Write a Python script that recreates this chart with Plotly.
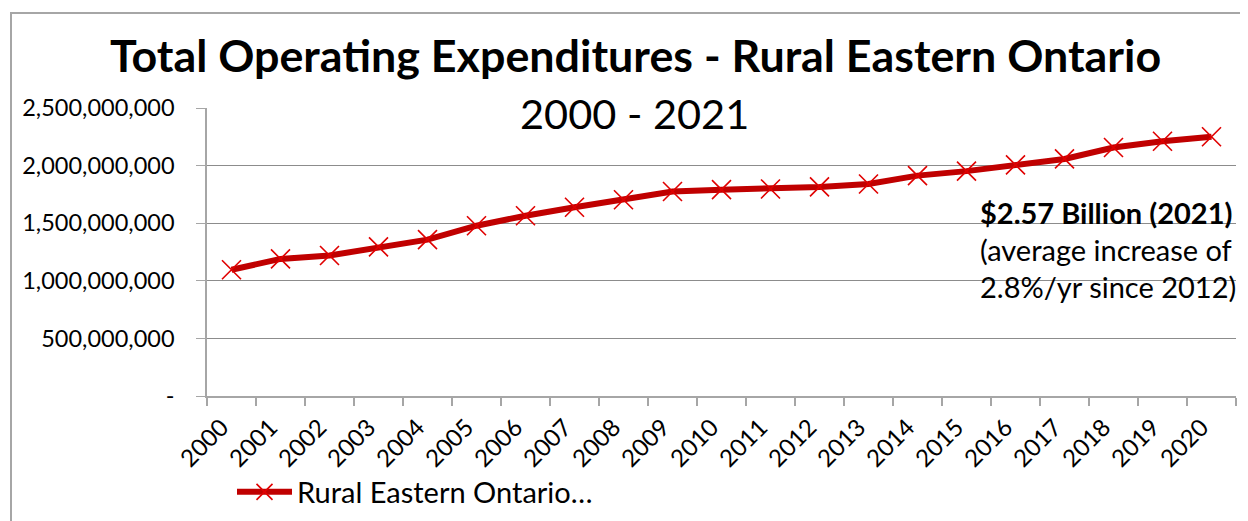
import plotly.graph_objects as go

years = [str(y) for y in range(2000, 2021)]
expenditures = [1.096e9, 1.19e9, 1.22e9, 1.295e9, 1.357e9, 1.478e9, 1.565e9, 1.638e9,
                1.704e9, 1.775e9, 1.791e9, 1.797e9, 1.815e9, 1.840e9, 1.913e9, 1.952e9,
                2.006e9, 2.058e9, 2.157e9, 2.211e9, 2.250e9]
series_name = "Rural Eastern Ontario…"
ytick_vals = [0, 500e6, 1000e6, 1500e6, 2000e6, 2500e6]
ytick_text = ["-", "500,000,000", "1,000,000,000", "1,500,000,000", "2,000,000,000", "2,500,000,000"]

title_text = "Total Operating Expenditures - Rural Eastern Ontario"
subtitle_text = "2000 - 2021"
note_lines = ["<b>$2.57 Billion (2021)</b>", "(average increase of", "2.8%/yr since 2012)"]

FONT = "Lato"
RED = "#C00000"

# page body has an 8px default margin; figure is sized to fit the window
OFF = 8
W, H = 1248 - OFF, 521 - OFF
# plot area in page coordinates
PL, PR, PT, PB = 207, 1236, 108, 396
L, R, T, B = PL - OFF, PR - OFF, PT - OFF, PB - OFF

def px(x):  # page x -> paper
    return (x - PL) / (PR - PL)
def py(y):  # page y -> paper
    return (PB - y) / (PB - PT)

fig = go.Figure()
fig.add_trace(go.Scatter(
    x=years, y=expenditures, name=series_name, mode="lines+markers",
    line=dict(color=RED, width=6),
    marker=dict(symbol="x-thin", size=19, color="#E00000",
                line=dict(width=1.6, color="#E00000")),
))

fig.update_layout(
    width=W, height=H,
    margin=dict(l=L, r=W - R, t=T, b=H - B, autoexpand=False),
    paper_bgcolor="white", plot_bgcolor="white",
    font=dict(family=FONT, size=23, color="black"),
    showlegend=True,
    legend=dict(orientation="h", x=px(232), y=py(492), xanchor="left", yanchor="middle",
                font=dict(size=29), bgcolor="rgba(0,0,0,0)", itemwidth=55),
)
fig.update_xaxes(
    type="category", range=[-0.5, len(years) - 0.5],
    showgrid=False, showline=True, linecolor="#A6A6A6", linewidth=1.5,
    ticks="outside", ticklen=8, tickcolor="#A6A6A6", tickwidth=1.5, tickson="boundaries",
    tickangle=-45, tickfont=dict(size=24, family=FONT), automargin=False,
    ticklabelstandoff=6, ticklabelshift=-10,
)
fig.update_yaxes(
    range=[0, 2.5e9], tickvals=ytick_vals, ticktext=ytick_text,
    showgrid=True, gridcolor="#8C8C8C", gridwidth=1.2,
    showline=True, linecolor="#A6A6A6", linewidth=1.5,
    ticks="outside", ticklen=9, tickcolor="#A6A6A6", tickwidth=1.2,
    ticklabelstandoff=17, tickfont=dict(size=23.5, family=FONT), zeroline=False,
    automargin=False,
)

# outer chart border
fig.add_shape(type="rect", xref="paper", yref="paper",
              x0=px(11), y0=py(560), x1=px(1300), y1=py(13),
              line=dict(color="#A6A6A6", width=2), fillcolor="rgba(0,0,0,0)", layer="below")

fig.add_annotation(text="<b>" + title_text + "</b>", xref="paper", yref="paper",
                   x=px(635), y=py(55), xanchor="center", yanchor="middle",
                   showarrow=False, font=dict(size=44.8, family=FONT, color="black"))
fig.add_annotation(text=subtitle_text, xref="paper", yref="paper",
                   x=px(634), y=py(113), xanchor="center", yanchor="middle",
                   showarrow=False, font=dict(size=41.5, family=FONT, color="black"))
for i, line in enumerate(note_lines):
    fig.add_annotation(text=line, xref="paper", yref="paper",
                       x=px(978), y=py(212 + 37 * i), xanchor="left", yanchor="middle",
                       showarrow=False, font=dict(size=29, family=FONT, color="black"))

fig.write_html("out.html")
